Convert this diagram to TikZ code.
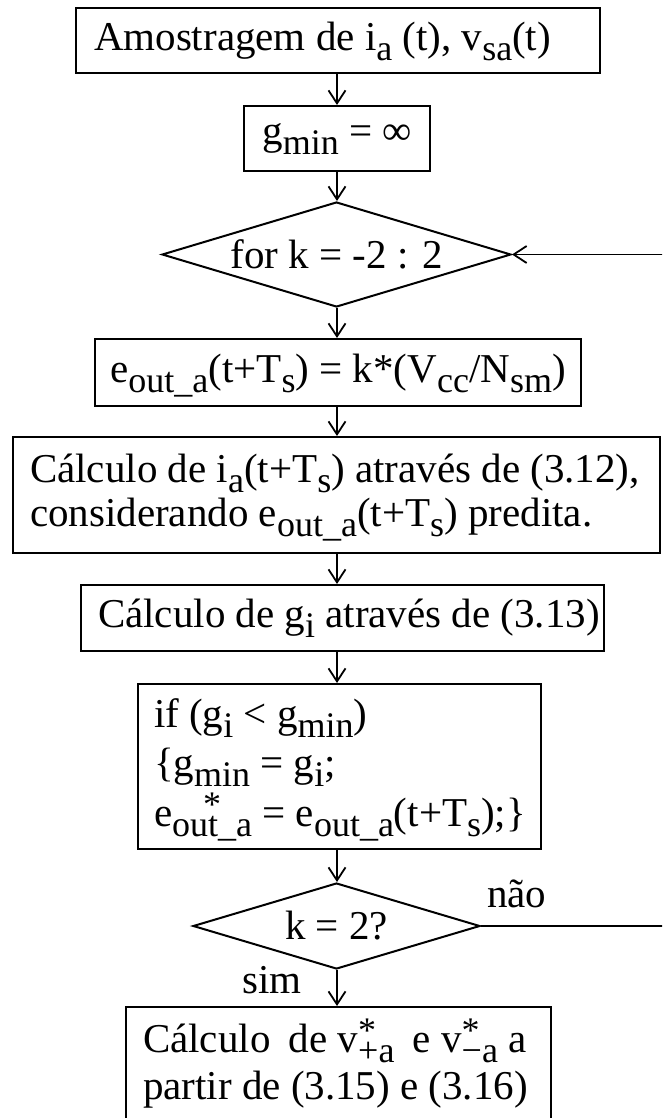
\documentclass[tikz,border=0pt]{standalone}
\usepackage{fontspec}
\setmainfont{Liberation Serif}
\usetikzlibrary{shapes.geometric,arrows.meta}
\newcommand\subf{\fontsize{36pt}{36pt}\selectfont}
\newcommand\sbx[1]{\smash{\raisebox{-10pt}{\subf #1}}}
\newcommand\supsub[2]{\smash{\rlap{\raisebox{10pt}{\subf #1}}\raisebox{-10pt}{\subf #2}}}
\begin{document}
\begin{tikzpicture}[x=1pt,y=-1pt,
  every node/.style={font=\fontsize{41pt}{44pt}\selectfont, inner sep=0pt},
  box/.style={draw, line width=2pt},
  dia/.style={draw, line width=2pt, diamond, inner sep=0pt},
  arr/.style={line width=1.8pt, -{Straight Barb[length=13pt,width=17pt]}},
  ln/.style={line width=1.8pt}]
\useasboundingbox (0,0) rectangle (662,1118);
\clip (0,0) rectangle (662,1118);
\coordinate (col) at (337,0);
\coordinate (loopR) at (700,600);

\node[box, minimum height=65pt, text width=488pt, inner xsep=18pt, align=flush left] (top) at (338,40.5)
  {\mbox{Amostragem de i\sbx{a} (t), v\sbx{sa}(t)}};
\node[box, minimum height=65pt, minimum width=186pt] (gmin) at (337,138.5)
  {g\sbx{min} = ∞};
\node[dia, minimum width=349pt, minimum height=105pt] (for) at (336.5,254.5) {};
\node (fortxt) at (336.5,254.5) {for k = -2 : 2};
\node[box, minimum height=67pt, minimum width=486pt] (eout) at (338,372.5)
  {e\sbx{out\_a}(t+T\sbx{s}) = k*(V\sbx{cc}/N\sbx{sm})};
\node[box, minimum height=116pt, text width=613pt, inner xsep=17pt, align=flush left] (calc) at (336.5,495)
  {\mbox{Cálculo de i\sbx{a}(t+T\sbx{s}) através de (3.12),}\\\mbox{considerando e\sbx{out\_a}(t+T\sbx{s}) predita.}};
\node[box, minimum height=66pt, text width=489pt, inner xsep=17pt, align=flush left] (gi) at (342.5,618)
  {\mbox{Cálculo de g\sbx{i} através de (3.13)}};
\node[box, minimum height=165pt, text width=371pt, inner xsep=16pt, align=flush left,
  font=\fontsize{41pt}{49.5pt}\selectfont] (if) at (339.5,766.5)
  {\mbox{if (g\sbx{i} < g\sbx{min})}\\\mbox{\{g\sbx{min} = g\sbx{i};}\\\mbox{e\supsub{\hspace{31pt}*}{out\_a} = e\sbx{out\_a}(t+T\sbx{s});\}}};
\node[dia, minimum width=287pt, minimum height=86pt] (k2) at (336.5,926) {};
\node (k2txt) at (336.5,926) {k = 2?};
\node[box, minimum height=118pt, text width=391pt, inner xsep=17pt, align=flush left,
  font=\fontsize{41pt}{47pt}\selectfont] (res) at (338.5,1066)
  {\mbox{Cálculo\hspace{8pt} de v\supsub{*}{+a}\hspace{8pt} e v\supsub{*}{−a} a}\\\mbox{partir de (3.15) e (3.16)}};

\node[anchor=base west] (nao) at (487,907) {não};
\node[anchor=base west] (sim) at (242,993) {sim};

\draw[arr] (top.south -| col) -- (gmin.north -| col);
\draw[arr] (gmin.south -| col) -- (for.north -| col);
\draw[arr] (for.south -| col) -- (eout.north -| col);
\draw[arr] (eout.south -| col) -- (calc.north -| col);
\draw[arr] (calc.south -| col) -- (gi.north -| col);
\draw[arr] (gi.south -| col) -- (if.north -| col);
\draw[arr] (if.south -| col) -- (k2.north -| col);
\draw[arr] (k2.south -| col) -- (res.north -| col);
\draw[arr] (k2.east) -| (loopR |- for.east) -- (for.east);
\end{tikzpicture}
\end{document}
